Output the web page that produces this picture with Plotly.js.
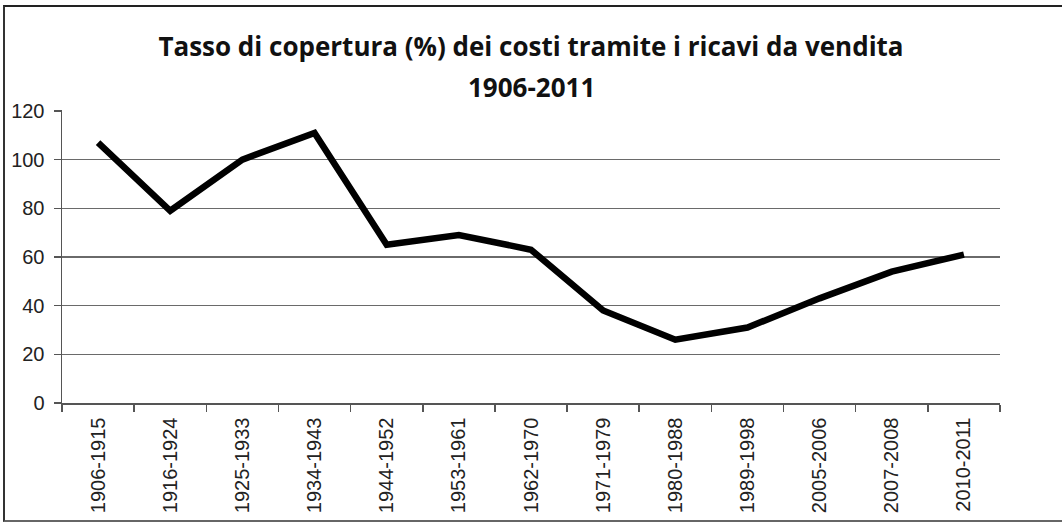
<!DOCTYPE html>
<html>
<head>
<meta charset="utf-8">
<script src="https://cdn.plot.ly/plotly-3.0.1.min.js"></script>
<style>
  html, body { margin: 0; padding: 0; background: #fff; }
  #wrap { position: relative; width: 1062px; height: 522px; overflow: hidden; }
  #chart { width: 1062px; height: 522px; }
  #frame { position: absolute; left: 3px; top: 5px; width: 1070px; height: 513px;
           border-top: 2px solid #222; border-left: 2px solid #333; border-bottom: 2px solid #666;
           pointer-events: none; }
</style>
</head>
<body>
<div id="wrap">
  <div id="chart"></div>
  <div id="frame"></div>
</div>
<script>
const periods = ["1906-1915","1916-1924","1925-1933","1934-1943","1944-1952","1953-1961","1962-1970","1971-1979","1980-1988","1989-1998","2005-2006","2007-2008","2010-2011"];
const coverage = [107, 79, 100, 111, 65, 69, 63, 38, 26, 31, 43, 54, 61];
const yTicks = [0, 20, 40, 60, 80, 100, 120];
const titleLine1 = 'Tasso di copertura (%) dei costi tramite i ricavi da vendita';
const titleLine2 = '1906-2011';

const trace = {
  x: periods,
  y: coverage,
  type: 'scatter',
  mode: 'lines',
  line: { color: '#000', width: 6.5, shape: 'linear' },
  hoverinfo: 'x+y'
};

const titleFont = { family: 'Open Sans, Lato, sans-serif', size: 26, color: '#111' };

const layout = {
  width: 1062,
  height: 522,
  paper_bgcolor: '#fff',
  plot_bgcolor: '#fff',
  margin: { l: 62, r: 62, t: 110, b: 119, pad: 0 },
  showlegend: false,
  title: {
    text: '<b>' + titleLine1 + '</b>',
    font: titleFont,
    x: 0.5, xanchor: 'center',
    y: 1 - 47/522, yanchor: 'middle', yref: 'container'
  },
  annotations: [{
    text: '<b>' + titleLine2 + '</b>',
    font: titleFont,
    xref: 'paper', yref: 'paper',
    x: 0.5, xanchor: 'center',
    y: 1 + (110 - 87) / 293, yanchor: 'middle',
    showarrow: false
  }],
  xaxis: {
    type: 'category',
    range: [-0.5, periods.length - 0.5],
    showline: true, linecolor: '#555', linewidth: 1.5,
    ticks: 'outside', tickson: 'boundaries', ticklen: 7, tickcolor: '#555', tickwidth: 1.5,
    showgrid: false, zeroline: false,
    tickangle: -90,
    ticklabelstandoff: 5,
    automargin: false,
    tickfont: { family: 'Liberation Sans, Arial, sans-serif', size: 20, color: '#222' }
  },
  yaxis: {
    range: [0, 120.4],
    tickvals: yTicks,
    showline: true, linecolor: '#555', linewidth: 1.5,
    ticks: 'outside', ticklen: 7, tickcolor: '#555', tickwidth: 1.5,
    ticklabelstandoff: 5,
    automargin: false,
    showgrid: true, gridcolor: '#6a6a6a', gridwidth: 1.5,
    zeroline: false,
    tickfont: { family: 'Liberation Sans, Arial, sans-serif', size: 20, color: '#222' }
  }
};

Plotly.newPlot('chart', [trace], layout, { displayModeBar: false, staticPlot: true });
</script>
</body>
</html>
